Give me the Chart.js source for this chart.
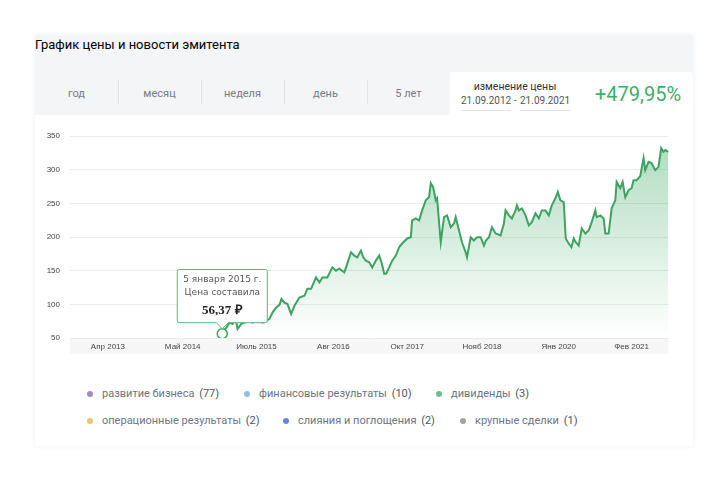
<!DOCTYPE html>
<html>
<head>
<meta charset="utf-8">
<script src="https://cdn.jsdelivr.net/npm/chart.js@4/dist/chart.umd.min.js"></script>
<style>
  body { margin: 0; width: 728px; height: 486px; background: #fff; font-family: Roboto, sans-serif; position: relative; overflow: hidden; }
  .card { position: absolute; left: 35px; top: 35px; width: 658px; height: 411px; background: #fff; box-shadow: 0 0 6px rgba(0,0,0,0.06); }
  .head { position: absolute; left: 35px; top: 35px; width: 658px; height: 80px; background: #f4f5f7; }
  .title { position: absolute; left: 35px; top: 37px; font-size: 13px; font-weight: 400; color: #000; line-height: 16px; }
  .tab { position: absolute; top: 72px; width: 83px; height: 43px; line-height: 43px; text-align: center; font-size: 11px; color: #727c88; }
  .sep { position: absolute; top: 80px; width: 1px; height: 24px; background: #dfe2e6; }
  .change { position: absolute; left: 450px; top: 72px; width: 243px; height: 43px; background: #fff; border-radius: 3px 3px 0 0; }
  .lbl { position: absolute; left: 10px; width: 110px; top: 9px; text-align: center; font-size: 10.5px; color: #333; line-height: 12px; }
  .d { position: absolute; top: 22px; font-size: 10px; color: #555; line-height: 13px; }
  .ul { position: absolute; top: 38px; height: 1px; width: 50px; background: #e3e5e8; }
  .pct { position: absolute; left: 145px; top: 9px; font-size: 20px; color: #3dae6a; line-height: 26px; }
  #wrap { position: absolute; left: 35px; top: 120px; width: 640px; height: 234px; }
  .legend { position: absolute; font-size: 11px; color: #6b7582; line-height: 14px; white-space: nowrap; }
  .legend i { position: absolute; left: -15px; top: 4px; width: 6px; height: 6px; border-radius: 50%; }
  .legend b { font-weight: 400; color: #4d5663; margin-left: 2px; }
</style>
</head>
<body>
<div class="card"></div>
<div class="head"></div>
<div class="title">График цены и новости эмитента</div>
<div class="tab" style="left:35px">год</div>
<div class="tab" style="left:118px">месяц</div>
<div class="tab" style="left:201px">неделя</div>
<div class="tab" style="left:284px">день</div>
<div class="tab" style="left:367px">5 лет</div>
<div class="sep" style="left:118px"></div>
<div class="sep" style="left:201px"></div>
<div class="sep" style="left:284px"></div>
<div class="sep" style="left:367px"></div>
<div class="change">
  <div class="lbl">изменение цены</div>
  <div class="d" style="left:11px">21.09.2012</div>
  <div class="d" style="left:64px">-</div>
  <div class="d" style="left:70px">21.09.2021</div>
  <div class="ul" style="left:11px"></div>
  <div class="ul" style="left:70px"></div>
  <div class="pct">+479,95%</div>
</div>
<div id="wrap"><canvas id="chart"></canvas></div>

<div class="legend" style="left:102px;top:387px"><i style="background:#a48cc2"></i>развитие бизнеса <b>(77)</b></div>
<div class="legend" style="left:259px;top:387px"><i style="background:#93bde6"></i>финансовые результаты <b>(10)</b></div>
<div class="legend" style="left:451px;top:387px"><i style="background:#6dbf8c"></i>дивиденды <b>(3)</b></div>
<div class="legend" style="left:102px;top:414px"><i style="background:#f4bf72"></i>операционные результаты <b>(2)</b></div>
<div class="legend" style="left:298px;top:414px"><i style="background:#6a86d6"></i>слияния и поглощения <b>(2)</b></div>
<div class="legend" style="left:475px;top:414px"><i style="background:#a3a3a3"></i>крупные сделки <b>(1)</b></div>

<script>
// price history, x = decimal year
const dates = [
  2015.01, 2015.07, 2015.12, 2015.165, 2015.21, 2015.24, 2015.295, 2015.345, 2015.42, 2015.465,
  2015.52, 2015.57, 2015.615, 2015.67, 2015.72, 2015.765, 2015.82, 2015.87, 2015.90, 2015.945,
  2015.99, 2016.045, 2016.095, 2016.17, 2016.245, 2016.29, 2016.345, 2016.42, 2016.47, 2016.515,
  2016.59, 2016.665, 2016.72, 2016.77, 2016.845, 2016.89, 2016.945, 2016.995, 2017.04, 2017.095,
  2017.13, 2017.17, 2017.22, 2017.265, 2017.32, 2017.37, 2017.41, 2017.445, 2017.475, 2017.52,
  2017.565, 2017.62, 2017.67, 2017.715, 2017.79, 2017.845, 2017.865, 2017.92, 2017.97, 2018.015,
  2018.07, 2018.12, 2018.145, 2018.18, 2018.22, 2018.24, 2018.295, 2018.345, 2018.39, 2018.445,
  2018.495, 2018.52, 2018.57, 2018.615, 2018.67, 2018.69, 2018.745, 2018.795, 2018.84, 2018.895,
  2018.945, 2018.975, 2019.02, 2019.065, 2019.12, 2019.195, 2019.245, 2019.27, 2019.32, 2019.365,
  2019.42, 2019.44, 2019.47, 2019.515, 2019.57, 2019.62, 2019.665, 2019.72, 2019.77, 2019.815,
  2019.87, 2019.92, 2019.965, 2020.02, 2020.055, 2020.095, 2020.145, 2020.175, 2020.22, 2020.26,
  2020.295, 2020.325, 2020.37, 2020.415, 2020.47, 2020.52, 2020.565, 2020.62, 2020.64, 2020.695,
  2020.745, 2020.77, 2020.82, 2020.865, 2020.92, 2020.94, 2020.995, 2021.03, 2021.07, 2021.12,
  2021.165, 2021.195, 2021.24, 2021.295, 2021.345, 2021.37, 2021.42, 2021.465, 2021.52, 2021.57,
  2021.61, 2021.645, 2021.675, 2021.72
];
const prices = [
  56.37, 65.4, 72.8, 70.9, 78.4, 63.4, 70.9, 72.8, 76.9, 72.8,
  75.4, 75.4, 72.8, 75.4, 78.4, 87.8, 95.2, 99.3, 108.2, 102.2,
  100.7, 85.8, 97.8, 110.1, 112.7, 123.1, 123.1, 140.0, 132.5, 140.0,
  140.0, 154.9, 150.0, 153.0, 147.5, 160.4, 177.3, 172.4, 169.9, 179.8,
  169.9, 164.9, 162.4, 154.9, 164.9, 172.4, 160.4, 145.5, 145.5, 154.9,
  164.9, 172.4, 184.8, 190.3, 197.8, 199.7, 224.6, 227.6, 224.6, 239.5,
  254.5, 259.4, 279.8, 274.3, 254.5, 257.5, 192.2, 229.5, 232.1, 214.6,
  220.1, 229.5, 209.7, 192.2, 177.3, 169.9, 199.7, 194.8, 199.7, 199.7,
  187.3, 194.8, 199.7, 214.6, 205.2, 202.2, 220.1, 239.5, 232.1, 227.6,
  239.5, 247.0, 239.5, 242.5, 232.1, 217.2, 222.1, 235.0, 227.6, 239.5,
  239.5, 232.1, 247.0, 257.5, 266.9, 254.5, 251.9, 197.8, 190.3, 184.8,
  197.8, 192.2, 187.3, 212.7, 205.2, 209.7, 222.1, 239.5, 229.5, 232.1,
  227.6, 205.2, 205.2, 242.5, 254.5, 281.8, 272.4, 281.8, 259.0, 269.4,
  272.4, 284.3, 284.3, 290.3, 317.2, 299.3, 311.6, 309.7, 299.3, 304.2,
  332.1, 326.6, 329.1, 326.6
];
const tickValues = [2013.29, 2014.415, 2015.525, 2016.68, 2017.79, 2018.915, 2020.07, 2021.165];
const tickLabels = ['Апр 2013', 'Май 2014', 'Июль 2015', 'Авг 2016', 'Окт 2017', 'Нояб 2018', 'Янв 2020', 'Фев 2021'];
const tooltipTitle = ['5 января 2015 г.', 'Цена составила'];
const tooltipValue = '56,37 ₽';

const points = dates.map((d, i) => ({ x: d, y: prices[i] }));

// grey strip behind the date labels
const axisBand = {
  id: 'axisBand',
  beforeDraw(chart) {
    const { ctx, chartArea, scales } = chart;
    ctx.save();
    ctx.fillStyle = '#f6f6f6';
    ctx.fillRect(chartArea.left, chartArea.bottom + 1, chartArea.right - chartArea.left, scales.x.bottom - chartArea.bottom - 1);
    ctx.restore();
  }
};

const chart = new Chart(document.getElementById('chart'), {
  type: 'line',
  data: {
    datasets: [{
      data: points,
      borderColor: '#3ea262',
      borderWidth: 2,
      tension: 0,
      fill: 'start',
      backgroundColor(c) {
        const area = c.chart.chartArea;
        if (!area) return 'rgba(61,170,100,0.2)';
        const g = c.chart.ctx.createLinearGradient(0, area.top, 0, area.bottom);
        g.addColorStop(0, 'rgba(61,170,100,0.42)');
        g.addColorStop(1, 'rgba(61,170,100,0)');
        return g;
      },
      pointRadius: prices.map((p, i) => i === 0 ? 5 : 0),
      pointBorderWidth: 1.5,
      pointBorderColor: '#2fa854',
      pointBackgroundColor: '#fff'
    }]
  },
  options: {
    responsive: true,
    maintainAspectRatio: false,
    animation: false,
    events: [],
    layout: { padding: { top: 16, right: 5, left: 0, bottom: 0 } },
    scales: {
      x: {
        type: 'linear',
        min: 2012.72,
        max: 2021.72,
        afterBuildTicks(s) { s.ticks = tickValues.map(v => ({ value: v })); },
        afterFit(s) { s.height = 16; },
        grid: { display: false, drawTicks: false },
        border: { display: false },
        ticks: {
          padding: 4,
          maxRotation: 0,
          autoSkip: false,
          color: '#444',
          font: { family: 'Liberation Sans', size: 8 },
          callback(v, i) { return tickLabels[i]; }
        }
      },
      y: {
        min: 50,
        max: 350,
        afterFit(s) { s.width = 35; },
        grid: { color: '#ebebeb', drawTicks: false },
        border: { display: false },
        ticks: {
          stepSize: 50,
          padding: 10,
          color: '#444',
          font: { family: 'Liberation Sans', size: 8 }
        }
      }
    },
    plugins: {
      legend: { display: false },
      tooltip: {
        enabled: true,
        animation: false,
        yAlign: 'bottom',
        xAlign: 'center',
        caretSize: 6,
        caretPadding: 5,
        cornerRadius: 2,
        backgroundColor: '#fff',
        borderColor: '#5bb57c',
        borderWidth: 1,
        displayColors: false,
        padding: { top: 5, bottom: 4, left: 6, right: 6 },
        titleAlign: 'center',
        bodyAlign: 'center',
        titleColor: '#555',
        titleFont: { family: 'DejaVu Sans', size: 9, weight: 'normal' },
        titleSpacing: 2,
        titleMarginBottom: 5,
        bodyColor: '#222',
        bodyFont: { family: 'Liberation Serif', size: 13, weight: 'bold' },
        callbacks: {
          title() { return tooltipTitle; },
          label() { return tooltipValue; }
        }
      }
    }
  },
  plugins: [axisBand]
});

chart.tooltip.setActiveElements([{ datasetIndex: 0, index: 0 }], { x: 0, y: 0 });
chart.update();
</script>
</body>
</html>
